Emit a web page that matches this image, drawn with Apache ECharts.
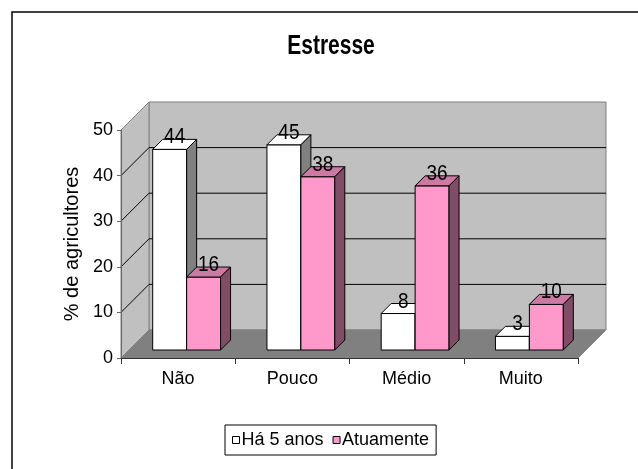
<!DOCTYPE html>
<html>
<head>
<meta charset="utf-8">
<title>Estresse</title>
<script src="https://cdn.jsdelivr.net/npm/echarts@6/dist/echarts.min.js"></script>
<style>
  html, body { margin: 0; padding: 0; background: #fff; }
  #chart { width: 638px; height: 469px; }
</style>
</head>
<body>
<div id="chart"></div>
<script>
// dados do gráfico (% de agricultores)
const titulo = 'Estresse';
const categorias = ['Não', 'Pouco', 'Médio', 'Muito'];
const ha5Anos = [44, 45, 8, 3];
const atualmente = [16, 38, 36, 10];
const yTicks = [0, 10, 20, 30, 40, 50];

const FONT = "'Liberation Sans', Arial, sans-serif";
const DEPTH = [28, -28];       // profundidade das paredes
const BAR_SHIFT = [8.5, -8];   // barras recuadas em relação ao eixo da frente
const BAR_DEPTH = 10;
const BAR_FRAC = 0.297;        // largura de cada barra / largura da categoria

const chart = echarts.init(document.getElementById('chart'));

// paredes, piso e linhas de grade em perspectiva
function renderWalls(params, api) {
  const cs = params.coordSys;
  const x0 = cs.x, x1 = cs.x + cs.width;
  const yTop = cs.y, yBot = cs.y + cs.height;
  const dx = DEPTH[0], dy = DEPTH[1];
  const children = [
    {
      type: 'polygon',
      shape: { points: [[x0 + dx, yTop + dy], [x1 + dx, yTop + dy], [x1 + dx, yBot + dy], [x0 + dx, yBot + dy]] },
      style: { fill: '#c0c0c0', stroke: '#808080', lineWidth: 1 }
    },
    {
      type: 'polygon',
      shape: { points: [[x0, yTop], [x0 + dx, yTop + dy], [x0 + dx, yBot + dy], [x0, yBot]] },
      style: { fill: '#c0c0c0', stroke: '#808080', lineWidth: 1 }
    },
    {
      type: 'polygon',
      shape: { points: [[x0, yBot], [x1, yBot], [x1 + dx, yBot + dy], [x0 + dx, yBot + dy]] },
      style: { fill: '#808080', stroke: '#808080', lineWidth: 1 }
    }
  ];
  const lo = yTicks[0], hi = yTicks[yTicks.length - 1];
  yTicks.forEach(function (v) {
    if (v === lo || v === hi) return;
    const y = api.coord([0, v])[1];
    children.push({
      type: 'polyline',
      shape: { points: [[x0, y], [x0 + dx, y + dy], [x1 + dx, y + dy]] },
      style: { stroke: '#000', lineWidth: 1, fill: null }
    });
  });
  return { type: 'group', children: children };
}

// barra 3D: frente, topo e lateral
function barRenderer(lado, corFrente, corTopo, corLado) {
  return function (params, api) {
    const cat = api.value(0), val = api.value(1);
    const p = api.coord([cat, val]);
    const base = api.coord([cat, 0]);
    const w = api.size([1, 0])[0] * BAR_FRAC;
    const cx = p[0] + BAR_SHIFT[0];
    const xl = lado === 0 ? cx - w : cx;
    const xr = xl + w;
    const yt = p[1] + BAR_SHIFT[1];
    const yb = base[1] + BAR_SHIFT[1];
    const d = BAR_DEPTH;
    const line = { stroke: '#000', lineWidth: 1 };
    return {
      type: 'group',
      children: [
        { type: 'polygon', shape: { points: [[xl, yt], [xr, yt], [xr, yb], [xl, yb]] },
          style: Object.assign({ fill: corFrente }, line) },
        { type: 'polygon', shape: { points: [[xl, yt], [xl + d, yt - d], [xr + d, yt - d], [xr, yt]] },
          style: Object.assign({ fill: corTopo }, line) },
        { type: 'polygon', shape: { points: [[xr, yt], [xr + d, yt - d], [xr + d, yb - d], [xr, yb]] },
          style: Object.assign({ fill: corLado }, line) },
        { type: 'text', x: (xl + xr) / 2 + d / 2, y: yt - 12, scaleY: 1.15,
          style: { text: String(val), fill: '#000', font: '19px ' + FONT, align: 'center', verticalAlign: 'middle' } }
      ]
    };
  };
}

const option = {
  animation: false,
  backgroundColor: '#fff',
  legend: {
    data: ['Há 5 anos', 'Atuamente'],
    left: 225,
    top: 425,
    padding: [6, 7],
    itemGap: 9,
    itemWidth: 7,
    itemHeight: 7,
    icon: 'rect',
    borderColor: '#000',
    borderWidth: 1,
    borderRadius: 0,
    itemStyle: { borderColor: '#000', borderWidth: 1 },
    textStyle: { fontFamily: FONT, fontSize: 18, color: '#000', padding: [0, 0, 0, -3] }
  },
  grid: { left: 121, top: 130, width: 457, height: 228 },
  xAxis: {
    type: 'category',
    data: categorias,
    z: 3,
    axisLine: { lineStyle: { color: '#333', width: 1 } },
    axisTick: { show: true, length: 6, lineStyle: { color: '#333' } },
    axisLabel: { margin: 12, fontFamily: FONT, fontSize: 18, color: '#000' },
    splitLine: { show: false }
  },
  yAxis: {
    type: 'value',
    min: yTicks[0],
    max: yTicks[yTicks.length - 1],
    interval: 10,
    z: 3,
    name: '% de agricultores',
    nameLocation: 'middle',
    nameRotate: 90,
    nameGap: 36,
    nameTextStyle: { fontFamily: FONT, fontSize: 20, color: '#000' },
    axisLine: { show: true, lineStyle: { color: '#666', width: 1 } },
    axisTick: { show: true, length: 4, lineStyle: { color: '#666' } },
    axisLabel: { margin: 8, fontFamily: FONT, fontSize: 18, color: '#000' },
    splitLine: { show: false }
  },
  series: [
    {
      type: 'custom',
      name: 'paredes',
      z: 1,
      silent: true,
      renderItem: renderWalls,
      data: [[0, 0]],
      encode: { x: 0, y: 1 }
    },
    {
      type: 'custom',
      name: 'Há 5 anos',
      z: 2,
      itemStyle: { color: '#ffffff' },
      renderItem: barRenderer(0, '#ffffff', '#ffffff', '#808080'),
      data: ha5Anos.map(function (v, i) { return [i, v]; }),
      encode: { x: 0, y: 1 }
    },
    {
      type: 'custom',
      name: 'Atuamente',
      z: 2,
      itemStyle: { color: '#ff99cc' },
      renderItem: barRenderer(1, '#ff99cc', '#cc7aa3', '#804d66'),
      data: atualmente.map(function (v, i) { return [i, v]; }),
      encode: { x: 0, y: 1 }
    }
  ],
  graphic: [
    {
      type: 'rect',
      shape: { x: 12, y: 12, width: 700, height: 600 },
      style: { fill: null, stroke: '#000', lineWidth: 1.5 },
      silent: true
    },
    {
      // título esticado na vertical, como no original
      type: 'text',
      x: 331,
      y: 47,
      scaleY: 1.28,
      silent: true,
      style: { text: titulo, font: 'bold 21px ' + FONT, fill: '#000', align: 'center', verticalAlign: 'middle' }
    }
  ]
};

chart.setOption(option);
</script>
</body>
</html>
